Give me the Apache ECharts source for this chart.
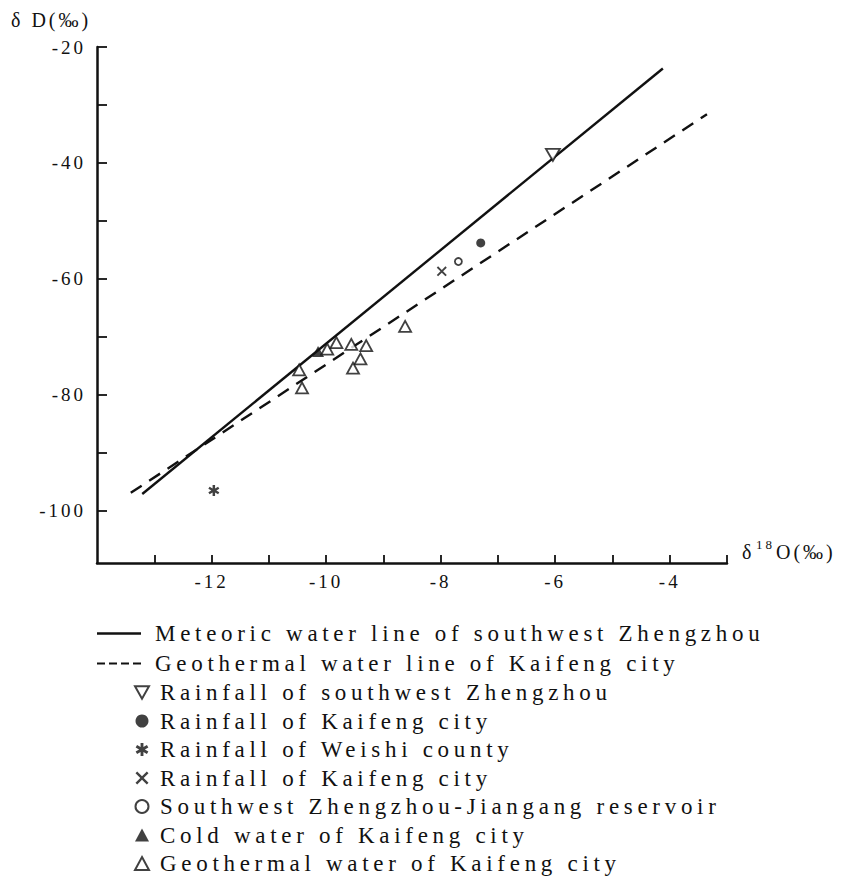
<!DOCTYPE html>
<html>
<head>
<meta charset="utf-8">
<script src="https://cdn.jsdelivr.net/npm/echarts@6/dist/echarts.min.js"></script>
<style>
  html, body { margin: 0; padding: 0; background: #fff; }
  #chart { width: 844px; height: 877px; }
  /* wide, typewriter-like tracking for all chart text */
  #chart text { letter-spacing: 3px; }
  #chart text[style*="23px"], #chart text[font-size="23px"], #chart text[font-size="23"] { letter-spacing: 4.7px; }
</style>
</head>
<body>
<div id="chart"></div>
<script>
// δ18O / δD values (‰)
const rainfallZhengzhou = [[-6.04, -38.6]];
const rainfallKaifengDot = [[-7.30, -53.8]];
const rainfallWeishi = [[-11.96, -96.5]];
const rainfallKaifengCross = [[-7.98, -58.7]];
const jiangangReservoir = [[-7.69, -57.0]];
const coldWaterKaifeng = [[-10.14, -72.5]];
const geothermalKaifeng = [
  [-10.47, -75.7], [-10.42, -78.8], [-9.98, -72.1], [-9.82, -71.0],
  [-9.56, -71.3], [-9.30, -71.5], [-9.40, -73.8], [-9.53, -75.4],
  [-8.62, -68.2]
];

// fitted water lines, end points
const meteoricLine = [[-13.21, -97.1], [-4.12, -23.7]];
const geothermalLine = [[-13.41, -96.9], [-3.35, -31.6]];

// axis ticks and labels
const xTicks = [-13, -12, -11, -10, -9, -8, -7, -6, -5, -4, -3];
const xLabels = [-12, -10, -8, -6, -4];
const yTicks = [-100, -90, -80, -70, -60, -50, -40, -30, -20];
const yLabels = [-100, -80, -60, -40, -20];

const FONT = '"Liberation Serif", "DejaVu Serif", serif';
const INK = '#111';

const SYM_DOWN_TRI = 'path://M0,0 L10,0 L5,9 Z';
const SYM_CROSS = 'path://M0,1.3 L1.3,0 L5,3.7 L8.7,0 L10,1.3 L6.3,5 L10,8.7 L8.7,10 L5,6.3 L1.3,10 L0,8.7 L3.7,5 Z';
const SYM_STAR = 'path://M3.9,0 L6.1,0 L6.1,3.095 L8.78,1.547 L9.88,3.453 L7.2,5 L9.88,6.547 L8.78,8.453 L6.1,6.905 L6.1,10 L3.9,10 L3.9,6.905 L1.22,8.453 L0.12,6.547 L2.8,5 L0.12,3.453 L1.22,1.547 L3.9,3.095 Z';
// legend keys for the two fitted lines
const KEY_SOLID = 'rect';
const KEY_DASHED = 'path://M0,0 h8 v2 h-8 Z M12,0 h8 v2 h-8 Z M24,0 h8 v2 h-8 Z M36,0 h8 v2 h-8 Z';

const openStyle = { color: '#fff', borderColor: INK, borderWidth: 1.8 };
const solidStyle = { color: INK };

function scatter(name, data, symbol, size, style) {
  return {
    name: name, type: 'scatter', data: data, symbol: symbol, symbolSize: size,
    itemStyle: style, z: 5, emphasis: { disabled: true }
  };
}

const chart = echarts.init(document.getElementById('chart'), null, { renderer: 'svg' });

chart.setOption({
  animation: false,
  backgroundColor: '#fff',
  textStyle: { fontFamily: FONT, color: INK },
  grid: { left: 97, right: 117, top: 47, bottom: 314, containLabel: false },
  xAxis: {
    type: 'value', min: -14, max: -3,
    axisLine: { onZero: false, lineStyle: { color: INK, width: 2.5 } },
    axisTick: { inside: true, length: 8, lineStyle: { color: INK, width: 1.8 }, customValues: xTicks },
    axisLabel: { customValues: xLabels, margin: 9, fontSize: 19, color: INK, fontFamily: FONT },
    splitLine: { show: false }
  },
  yAxis: {
    type: 'value', min: -109, max: -20,
    axisLine: { onZero: false, lineStyle: { color: INK, width: 2.5 } },
    axisTick: { inside: true, length: 10, lineStyle: { color: INK, width: 1.8 }, customValues: yTicks },
    axisLabel: { customValues: yLabels, margin: 11, fontSize: 19, color: INK, fontFamily: FONT },
    splitLine: { show: false }
  },
  graphic: [
    { type: 'text', left: 11, top: 10, style: { text: 'δ D(‰)', font: '20px ' + FONT, fill: INK } },
    // x axis title: δ, superscript 18, O(‰)
    { type: 'text', left: 742, top: 542, style: { text: 'δ', font: '20px ' + FONT, fill: INK } },
    { type: 'text', left: 756, top: 538, style: { text: '18', font: '13px ' + FONT, fill: INK } },
    { type: 'text', left: 776, top: 542, style: { text: 'O(‰)', font: '20px ' + FONT, fill: INK } }
  ],
  legend: [
    {
      orient: 'vertical', left: 97, top: 622, padding: 0, height: 70,
      itemWidth: 44, itemHeight: 2.4, itemGap: 7,
      selectedMode: false,
      itemStyle: { color: INK, borderWidth: 0 },
      textStyle: { fontSize: 23, lineHeight: 22, fontFamily: FONT, color: INK, padding: [0, 0, 0, 9] },
      data: [
        { name: 'Meteoric water line of southwest Zhengzhou', icon: KEY_SOLID },
        { name: 'Geothermal water line of Kaifeng city', icon: KEY_DASHED }
      ]
    },
    {
      orient: 'vertical', left: 134, top: 681, padding: 0, height: 260,
      itemWidth: 14, itemHeight: 13, itemGap: 5.5,
      selectedMode: false,
      textStyle: { fontSize: 23, lineHeight: 22, fontFamily: FONT, color: INK, padding: [0, 0, 0, 6] },
      formatter: function (name) { return name.replace(/ #\d$/, ''); },
      data: [
        'Rainfall of southwest Zhengzhou',
        'Rainfall of Kaifeng city',
        'Rainfall of Weishi county',
        'Rainfall of Kaifeng city #2',
        'Southwest Zhengzhou-Jiangang reservoir',
        'Cold water of Kaifeng city',
        'Geothermal water of Kaifeng city'
      ]
    }
  ],
  series: [
    {
      name: 'Meteoric water line of southwest Zhengzhou', type: 'line', data: meteoricLine,
      symbol: 'none', lineStyle: { color: INK, width: 2.4, type: 'solid' },
      itemStyle: { color: INK }, z: 3, emphasis: { disabled: true }
    },
    {
      name: 'Geothermal water line of Kaifeng city', type: 'line', data: geothermalLine,
      symbol: 'none', lineStyle: { color: INK, width: 2.4, type: [13, 9] },
      itemStyle: { color: INK }, z: 3, emphasis: { disabled: true }
    },
    scatter('Rainfall of southwest Zhengzhou', rainfallZhengzhou, SYM_DOWN_TRI, [14, 12], openStyle),
    scatter('Rainfall of Kaifeng city', rainfallKaifengDot, 'circle', 9, solidStyle),
    scatter('Rainfall of Weishi county', rainfallWeishi, SYM_STAR, 11, solidStyle),
    scatter('Rainfall of Kaifeng city #2', rainfallKaifengCross, SYM_CROSS, 10, solidStyle),
    scatter('Southwest Zhengzhou-Jiangang reservoir', jiangangReservoir, 'circle', 7, openStyle),
    scatter('Cold water of Kaifeng city', coldWaterKaifeng, 'triangle', [12, 11], solidStyle),
    scatter('Geothermal water of Kaifeng city', geothermalKaifeng, 'triangle', [12, 11], openStyle)
  ]
});
</script>
</body>
</html>
